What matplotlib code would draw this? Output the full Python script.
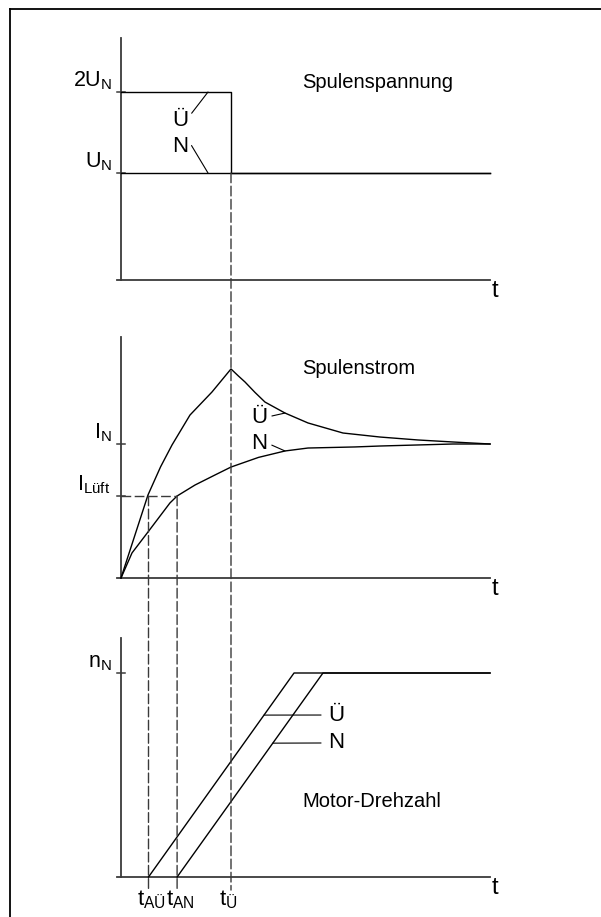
import numpy as np
import matplotlib
matplotlib.use('Agg')
import matplotlib.pyplot as plt
from matplotlib.patches import ConnectionPatch
from matplotlib.lines import Line2D

plt.rcParams['font.family'] = ['Liberation Sans', 'DejaVu Sans']
plt.rcParams['mathtext.fontset'] = 'custom'
plt.rcParams['mathtext.rm'] = 'Liberation Sans'
plt.rcParams['mathtext.it'] = 'Liberation Sans:italic'

# time axis, in units of t_Ü
T_END = 3.355
T_AUE = 0.25   # t_AÜ
T_AN = 0.51    # t_AN
T_UE = 1.0     # t_Ü

# coil voltage (units of U_N, levels as drawn)
volt_ticks = [1.757, 1.0]
volt_labels = [r'$\mathrm{2U_N}$', r'$\mathrm{U_N}$']
volt_ue_t = [0, T_UE, T_UE, T_END]
volt_ue = [1.757, 1.757, 1.0, 1.0]
volt_n_t = [0, T_END]
volt_n = [1.0, 1.0]

# coil current (units of I_N)
cur_ticks = [1.0, 0.612]
cur_labels = [r'$\mathrm{I_N}$', r'$\mathrm{I_{Lüft}}$']
I_LUEFT = 0.612
cur_ue_t = [0, 0.245, 0.36, 0.464, 0.627, 0.827, 1.0, 1.064, 1.127, 1.218,
            1.309, 1.491, 1.70, 2.018, 2.355, 2.70, 3.018, 3.355]
cur_ue = [0, 0.619, 0.83, 0.993, 1.216, 1.388, 1.560, 1.51, 1.463, 1.385,
          1.313, 1.231, 1.157, 1.082, 1.052, 1.03, 1.015, 1.0]
cur_n_t = [0, 0.10, 0.245, 0.445, 0.51, 0.673, 0.855, 1.0, 1.25, 1.491,
           1.70, 2.127, 2.355, 3.018, 3.355]
cur_n = [0, 0.187, 0.343, 0.560, 0.612, 0.694, 0.769, 0.828, 0.90, 0.948,
         0.970, 0.978, 0.985, 1.0, 1.0]

# motor speed (units of n_N)
speed_ticks = [1.0]
speed_labels = [r'$\mathrm{n_N}$']
speed_ue_t = [T_AUE, 1.573, T_END]
speed_ue = [0, 1, 1]
speed_n_t = [T_AN, 1.836, T_END]
speed_n = [0, 1, 1]

W, H = 601, 917
X0, XS = 121, 110   # pixel of t=0, pixels per time unit
AXC = '#3a3a3a'
FS = 14.5     # panel titles
FL = 15.5     # axis labels
FC = 16       # Ü / N curve labels

fig = plt.figure(figsize=(W / 100, H / 100), dpi=100)


def panel(top, bottom, base, scale):
    ax = fig.add_axes([0, 1 - bottom / H, 1, (bottom - top) / H])
    ax.set_xlim(-X0 / XS, (W - X0) / XS)
    ax.set_ylim((base - bottom) / scale, (base - top) / scale)
    ax.axis('off')
    return ax


def axes_lines(ax, ytop, ticks, labels):
    ax.plot([0, 0], [0, ytop], color=AXC, lw=1.3, clip_on=False)
    ax.plot([-0.036, T_END], [0, 0], color=AXC, lw=1.3, clip_on=False)
    for y, lab in zip(ticks, labels):
        ax.plot([-0.036, 0.036], [y, y], color=AXC, lw=1.1, clip_on=False)
        ax.text(-0.08, y, lab, ha='right', va='bottom', fontsize=FL)
    ax.text(T_END + 0.045, 0, 't', ha='center', va='top', fontsize=17)


def leader(ax, txt, t, xs, ys, pos, relpos, shrink=1.5):
    y = np.interp(t, xs, ys)
    ax.annotate(txt, xy=(t, y), xytext=pos, ha='center', va='center',
                fontsize=FC, annotation_clip=False,
                arrowprops=dict(arrowstyle='-', lw=0.8, color='black',
                                relpos=relpos, shrinkA=shrink, shrinkB=0))


ax1 = panel(20, 315, 280, 107)
ax2 = panel(315, 610, 578, 134)
ax3 = panel(610, 917, 877, 204)

# coil voltage
axes_lines(ax1, 2.262, volt_ticks, volt_labels)
ax1.plot(volt_ue_t, volt_ue, color='black', lw=1, clip_on=False)
ax1.plot(volt_n_t, volt_n, color='black', lw=1, clip_on=False)
ax1.annotate('Ü', xy=(0.791, volt_ue[0]), xytext=(0.536, 1.495),
             ha='center', va='center', fontsize=FC,
             arrowprops=dict(arrowstyle='-', lw=0.8, relpos=(1, 0.6),
                             shrinkA=1, shrinkB=0))
ax1.annotate('N', xy=(0.791, volt_n[0]), xytext=(0.536, 1.252),
             ha='center', va='center', fontsize=FC,
             arrowprops=dict(arrowstyle='-', lw=0.8, relpos=(1, 0.8),
                             shrinkA=1, shrinkB=0))
ax1.text(1.645, 1.85, 'Spulenspannung', ha='left', va='center', fontsize=FS)

# coil current
axes_lines(ax2, 1.80, [cur_ticks[0]], [cur_labels[0]])
ax2.plot([-0.036, 0.036], [I_LUEFT] * 2, color=AXC, lw=1.1)
ax2.text(-0.10, I_LUEFT, cur_labels[1], ha='right', va='bottom', fontsize=FL)
ax2.plot(cur_ue_t, cur_ue, color='black', lw=1, clip_on=False)
ax2.plot(cur_n_t, cur_n, color='black', lw=1, clip_on=False)
ax2.plot([0, T_AN], [I_LUEFT, I_LUEFT], color=AXC, lw=1,
         dashes=(7, 2.5))
leader(ax2, 'Ü', 1.491, cur_ue_t, cur_ue, (1.255, 1.201), (1, 0.5))
leader(ax2, 'N', 1.491, cur_n_t, cur_n, (1.255, 1.007), (1, 0.5))
ax2.text(1.645, 1.567, 'Spulenstrom', ha='left', va='center', fontsize=FS)

# motor speed
axes_lines(ax3, 1.17, speed_ticks, speed_labels)
ax3.plot(speed_ue_t, speed_ue, color='black', lw=1, clip_on=False)
ax3.plot(speed_n_t, speed_n, color='black', lw=1, clip_on=False)
leader(ax3, 'Ü', 1.30, speed_ue_t, speed_ue, (1.955, 0.794), (0, 0.5), 3)
leader(ax3, 'N', 1.38, speed_n_t, speed_n, (1.955, 0.657), (0, 0.5), 3)
ax3.text(1.645, 0.368, 'Motor-Drehzahl', ha='left', va='center', fontsize=FS)

# switching instants: dashed guides down to the time labels
y_end = -0.064
for t, ax_from, y_from in [(T_UE, ax1, 1.0), (T_AUE, ax2, I_LUEFT),
                           (T_AN, ax2, I_LUEFT)]:
    con = ConnectionPatch(xyA=(t, y_from), coordsA=ax_from.transData,
                          xyB=(t, y_end), coordsB=ax3.transData,
                          color=AXC, lw=1, linestyle=(0, (7, 2.5)))
    fig.add_artist(con)

for t, lab in [(T_AUE, r'$\mathrm{t_{AÜ}}$'), (T_AN, r'$\mathrm{t_{AN}}$'),
               (T_UE, r'$\mathrm{t_{Ü}}$')]:
    ax3.text(t - 0.105, -0.113, lab, ha='left', va='center', fontsize=16)

# outer frame (left and top edge)
fig.add_artist(Line2D([10.5 / W, 10.5 / W], [0, 1 - 8.5 / H], color='black',
                      lw=1.3))
fig.add_artist(Line2D([10.5 / W, 1], [1 - 8.5 / H, 1 - 8.5 / H],
                      color='black', lw=1.3))

fig.savefig('out.png', dpi=100, facecolor='white')
